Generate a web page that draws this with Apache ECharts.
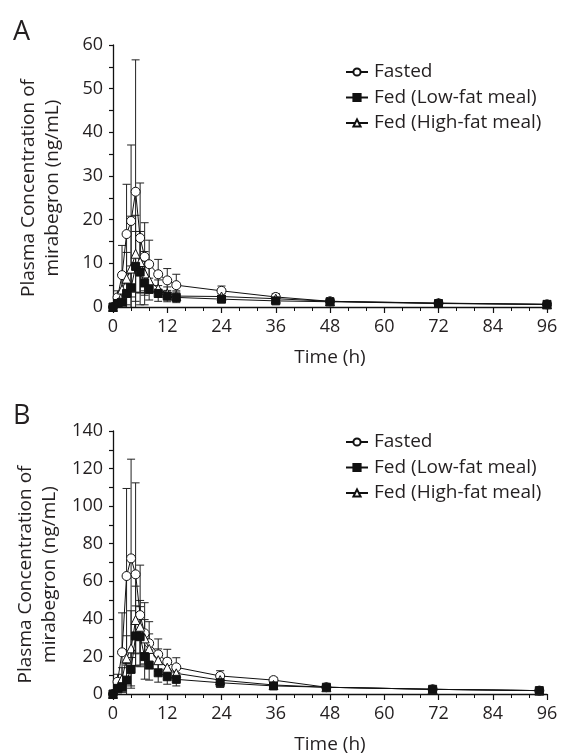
<!DOCTYPE html>
<html><head><meta charset="utf-8">
<script src="https://cdn.jsdelivr.net/npm/echarts@6/dist/echarts.min.js"></script>
<style>html,body{margin:0;padding:0;background:#fff}#c{width:561px;height:756px}</style>
</head><body><div id="c"></div>
<script>
// Panel A data
const timesA = [0, 1, 2, 3, 4, 5, 6, 7, 8, 10, 12, 14, 24, 36, 48, 72, 96];
const fastedA = [0, 2.2, 7.3, 16.7, 19.7, 26.4, 15.8, 11.5, 9.8, 7.5, 6.1, 5.0, 3.7, 2.3, 1.3, 0.85, 0.6];
const fastedA_sd = [0, 1.5, 6.8, 11.4, 17.4, 30.2, 12.6, 7.8, 5.5, 3.4, 2.7, 2.5, 1.1, 0.8, 0.5, 0.4, 0.3];
const lowFatA = [0, 0.8, 1.1, 3.1, 4.4, 9.3, 8.0, 5.5, 4.1, 3.1, 2.5, 2.2, 1.8, 1.4, 1.2, 0.8, 0.6];
const lowFatA_sd = [0, 0.6, 1.5, 4.5, 5.0, 8.0, 7.5, 5.0, 2.5, 1.8, 1.3, 1.2, 0.8, 0.6, 0.4, 0.3, 0.3];
const highFatA = [0, 1.0, 4.0, 6.5, 8.8, 12.2, 10.3, 7.7, 6.1, 4.2, 3.1, 2.5, 2.4, 1.9, 1.3, 0.9, 0.6];
const highFatA_sd = [0, 0.8, 3.0, 6.0, 12.0, 8.8, 7.0, 5.0, 3.0, 2.0, 1.5, 1.2, 0.8, 0.6, 0.4, 0.3, 0.3];
// Panel B data
const timesB = [0, 1, 2, 3, 4, 5, 6, 7, 8, 10, 12, 14, 23.7, 35.5, 47.2, 70.7, 94.3];
const fastedB = [0, 6.5, 22.2, 62.8, 72.2, 63.7, 42.0, 32.3, 27.0, 21.1, 17.2, 14.2, 9.6, 7.4, 3.6, 2.5, 1.8];
const fastedB_sd = [0, 4, 21, 46.6, 52.8, 48.7, 26.6, 16.3, 11.5, 8.2, 6.6, 5.1, 2.8, 1.5, 1.0, 0.6, 0.4];
const lowFatB = [0, 3.0, 3.9, 7.4, 13.1, 30.9, 30.5, 19.9, 15.4, 11.3, 9.2, 7.8, 6.0, 4.3, 3.6, 2.5, 1.8];
const lowFatB_sd = [0, 2, 3, 8, 10, 16, 16, 12, 8, 5, 4, 3.5, 2.5, 1.5, 1, 0.6, 0.4];
const highFatB = [0, 3.0, 8, 19, 24.3, 39.4, 35.8, 29.6, 24, 18, 14, 11, 7.4, 4.8, 3.6, 2.5, 1.8];
const highFatB_sd = [0, 2, 6, 12, 20, 18, 14, 10, 8, 6, 5, 4, 2.5, 1.5, 1, 0.6, 0.4];

const seriesNames = ['Fasted', 'Fed (Low-fat meal)', 'Fed (High-fat meal)'];
const xTicks = [0, 12, 24, 36, 48, 60, 72, 84, 96];
const yMaxA = 60, yStepA = 10;
const yMaxB = 140, yStepB = 20;

const FONT = 'Open Sans';
const TXT = '#231f20';

function pts(t, v) { return t.map((x, i) => [x, v[i]]); }
function errData(t, v, s) { return t.map((x, i) => [x, v[i], s[i]]); }

function errRender(params, api) {
  const x = api.value(0), y = api.value(1), sd = api.value(2);
  if (!sd) return null;
  const hi = api.coord([x, y + sd]);
  const loV = Math.max(0, y - sd);
  const lo = api.coord([x, loV]);
  const cw = 4;
  const st = { stroke: '#222', lineWidth: 1 };
  const ch = [
    { type: 'line', shape: { x1: hi[0], y1: hi[1], x2: lo[0], y2: lo[1] }, style: st },
    { type: 'line', shape: { x1: hi[0] - cw, y1: hi[1], x2: hi[0] + cw, y2: hi[1] }, style: st }
  ];
  if (y - sd > 0) ch.push({ type: 'line', shape: { x1: lo[0] - cw, y1: lo[1], x2: lo[0] + cw, y2: lo[1] }, style: st });
  return { type: 'group', children: ch };
}

const styles = [
  { symbol: 'circle', symbolSize: 9, itemStyle: { color: '#fff', borderColor: '#111', borderWidth: 1 } },
  { symbol: 'rect', symbolSize: 8, itemStyle: { color: '#111', borderColor: '#111', borderWidth: 1 } },
  { symbol: 'triangle', symbolSize: 9, itemStyle: { color: '#fff', borderColor: '#111', borderWidth: 1 } }
];

function panelSeries(idx, t, vals, sds) {
  const out = [];
  for (let k = 0; k < 3; k++) {
    out.push({
      type: 'custom', name: seriesNames[k] + ' SD', xAxisIndex: idx, yAxisIndex: idx,
      renderItem: errRender, data: errData(t, vals[k], sds[k]), z: 1, silent: true,
      encode: { x: 0, y: 1 }
    });
  }
  for (let k = 0; k < 3; k++) {
    out.push(Object.assign({
      type: 'line', name: seriesNames[k], xAxisIndex: idx, yAxisIndex: idx,
      data: pts(t, vals[k]), z: 3 + (k === 0 ? 0 : k === 2 ? 1 : 2),
      lineStyle: { color: '#111', width: 1 }, showAllSymbol: true, animation: false
    }, styles[k]));
  }
  return out;
}

function xAxis(idx) {
  return {
    type: 'value', gridIndex: idx, min: 0, max: 96, interval: 12,
    name: 'Time (h)', nameLocation: 'middle', nameGap: 41,
    nameTextStyle: { fontFamily: FONT, fontSize: 19, color: TXT },
    axisLine: { lineStyle: { color: '#111', width: 1.3 } },
    axisTick: { show: true, inside: false, length: 6, lineStyle: { color: '#111', width: 1.2 } },
    minorTick: { show: true, splitNumber: 3, length: 4, lineStyle: { color: '#111', width: 1 } },
    axisLabel: { fontFamily: FONT, fontSize: 18, color: TXT, margin: 11,
      formatter: v => xTicks.includes(v) ? String(v) : '' },
    splitLine: { show: false }
  };
}
function yAxis(idx, max, step) {
  return {
    type: 'value', gridIndex: idx, min: 0, max: max, interval: step,
    name: 'Plasma Concentration of\nmirabegron (ng/mL)', nameLocation: 'middle', nameGap: 48,
    nameTextStyle: { fontFamily: FONT, fontSize: 19, color: TXT, lineHeight: 24, padding: [0, 24, 0, 0] },
    axisLine: { show: true, lineStyle: { color: '#111', width: 1.3 } },
    axisTick: { show: true, inside: false, length: 4, lineStyle: { color: '#111', width: 1.2 } },
    minorTick: { show: true, splitNumber: 2, length: 4, lineStyle: { color: '#111', width: 1.2 } },
    axisLabel: { fontFamily: FONT, fontSize: 18, color: TXT, margin: 10 },
    splitLine: { show: false }
  };
}
function legend(top) {
  return {
    orient: 'vertical', left: 340, top: top, itemGap: 3.5, itemWidth: 22, itemHeight: 9,
    data: seriesNames, selectedMode: false,
    textStyle: { fontFamily: FONT, fontSize: 19, color: TXT, padding: [0, 0, 0, 1], lineHeight: 22 }
  };
}

const chart = echarts.init(document.getElementById('c'), null, { renderer: 'canvas' });
chart.setOption({
  animation: false,
  title: [
    { text: 'A', left: 8, top: 14, textStyle: { fontFamily: FONT, fontSize: 27, fontWeight: 'normal', color: TXT } },
    { text: 'B', left: 8, top: 398, textStyle: { fontFamily: FONT, fontSize: 27, fontWeight: 'normal', color: TXT } }
  ],
  legend: [legend(56), legend(426)],
  grid: [
    { left: 113, right: 14, top: 45, height: 262 },
    { left: 113, right: 14, top: 431, height: 263 }
  ],
  xAxis: [xAxis(0), xAxis(1)],
  yAxis: [yAxis(0, yMaxA, yStepA), yAxis(1, yMaxB, yStepB)],
  series: [].concat(
    panelSeries(0, timesA, [fastedA, lowFatA, highFatA], [fastedA_sd, lowFatA_sd, highFatA_sd]),
    panelSeries(1, timesB, [fastedB, lowFatB, highFatB], [fastedB_sd, lowFatB_sd, highFatB_sd])
  )
});
</script></body></html>
